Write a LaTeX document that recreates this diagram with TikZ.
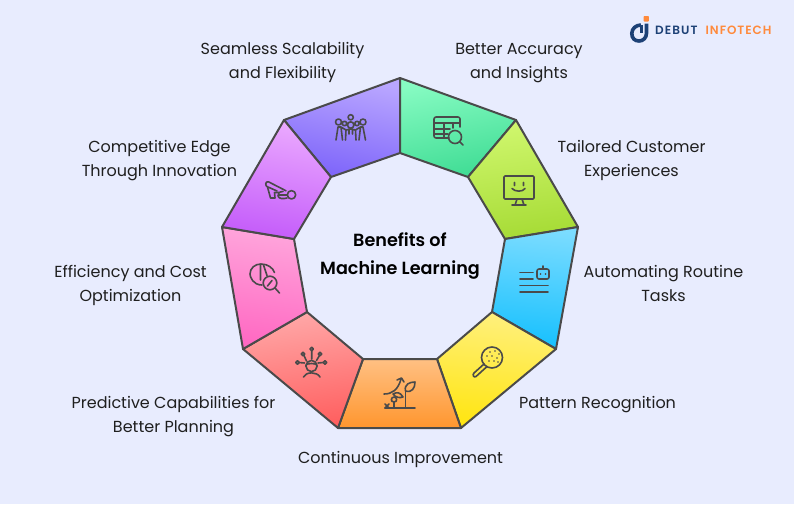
\documentclass[tikz,border=0pt]{standalone}
\usepackage{fontspec}
\setmainfont[BoldFont={Poppins SemiBold}]{Poppins}
\newfontfamily\logoa[LetterSpace=9,BoldFont={Poppins SemiBold}]{Poppins}
\newfontfamily\logob[LetterSpace=8,BoldFont={Poppins SemiBold}]{Poppins}
\usetikzlibrary{arrows.meta}
\definecolor{bgc}{HTML}{E8ECFE}
\definecolor{linec}{HTML}{4A4A4A}
\definecolor{inkc}{HTML}{1F1F1F}
\definecolor{logoblue}{HTML}{1D4176}
\definecolor{logoora}{HTML}{FF8A3C}
\definecolor{purt}{HTML}{B9A6FF}\definecolor{purb}{HTML}{7D64FA}
\definecolor{grnt}{HTML}{86FBC2}\definecolor{grnb}{HTML}{3FDC94}
\definecolor{limt}{HTML}{D0F76E}\definecolor{limb}{HTML}{A6DB35}
\definecolor{blut}{HTML}{7BDCFF}\definecolor{blub}{HTML}{16C0FE}
\definecolor{yelt}{HTML}{FFF07E}\definecolor{yelb}{HTML}{FFE510}
\definecolor{orat}{HTML}{FFC083}\definecolor{orab}{HTML}{FF962E}
\definecolor{redt}{HTML}{FFA8A8}\definecolor{redb}{HTML}{FF5F5F}
\definecolor{pnkt}{HTML}{FFA6DC}\definecolor{pnkb}{HTML}{FF68C2}
\definecolor{magt}{HTML}{EBAAFF}\definecolor{magb}{HTML}{C45CFA}
\tikzset{
  x=1pt,y=-1pt,
  seg/.style n args={3}{draw=linec,line width=2pt,line join=round,top color=#1,bottom color=#2,shading angle=#3},
  lbl/.style={font=\fontsize{16}{24}\selectfont,text=inkc,align=center,inner sep=0pt},
  ttl/.style={font=\fontsize{17.6}{28}\selectfont\bfseries,text=black,align=center,inner sep=0pt},
  ico/.style={draw=linec,line width=1.6pt,line cap=round,line join=round,fill=none},
  logot/.style={inner sep=0pt,anchor=base west},
}
\begin{document}
\begin{tikzpicture}
\useasboundingbox (0,0) rectangle (794,504);
\fill[bgc] (0,0) rectangle (794,504);
% segments
\path[seg={purt}{purb}{-12}] (400,78)--(400,153)--(331,177)--(284,120)--cycle;
\path[seg={grnt}{grnb}{12}] (400,78)--(516,120)--(468,177)--(400,153)--cycle;
\path[seg={limt}{limb}{8}] (516,120)--(578,227)--(505,239)--(468,177)--cycle;
\path[seg={blut}{blub}{-6}] (578,227)--(556,349)--(492,312)--(505,239)--cycle;
\path[seg={yelt}{yelb}{-6}] (556,349)--(461,428)--(437,359)--(492,312)--cycle;
\path[seg={orat}{orab}{0}] (461,428)--(338,428)--(363,359)--(437,359)--cycle;
\path[seg={redt}{redb}{8}] (338,428)--(243,349)--(307,312)--(363,359)--cycle;
\path[seg={pnkt}{pnkb}{-8}] (243,349)--(222,227)--(294,239)--(307,312)--cycle;
\path[seg={magt}{magb}{-10}] (222,227)--(284,120)--(331,177)--(294,239)--cycle;
% labels
\node[lbl] (l1) at (282.5,62.5) {Seamless Scalability\\and Flexibility};
\node[lbl] (l2) at (519,63.5) {Better Accuracy\\and Insights};
\node[lbl] (l3) at (631.5,160.5) {Tailored Customer\\Experiences};
\node[lbl] (l4) at (663.5,283.5) {Automating Routine\\Tasks};
\node[lbl] (l5) at (597.5,404.5) {Pattern Recognition};
\node[lbl] (l6) at (400.5,459.5) {Continuous Improvement};
\node[lbl] (l7) at (173.5,416.5) {Predictive Capabilities for\\Better Planning};
\node[lbl] (l8) at (130.5,285.5) {Efficiency and Cost\\Optimization};
\node[lbl] (l9) at (159.5,160.5) {Competitive Edge\\Through Innovation};
\node[ttl] (t) at (400,255.5) {Benefits of\\Machine Learning};
% purple: people
\draw[ico] (350.7,117.3) circle (2.6) (338.5,122) circle (3) (363,122) circle (3) (350.7,125) circle (3.2) (344.5,123.5) circle (2.2) (357,123.5) circle (2.2);
\draw[ico] (336,140) -- (338,127) -- (341,127) -- (342.5,140) (345.5,140) -- (346,130) -- (350.7,129) -- (355.5,130) -- (356,140) (359,140) -- (360.5,127) -- (363,127) -- (365.5,140) (341,127) -- (346,130) (355.5,130) -- (360.5,127) (349,129) -- (349,134) (352.5,129) -- (352.5,134);
% green: table + magnifier
\draw[ico] (449,138) -- (436,138) .. controls (435,138) and (434,137) .. (434,136) -- (434,119) .. controls (434,118) and (435,117) .. (436,117) -- (458,117) .. controls (459,117) and (460,118) .. (460,119) -- (460,127);
\draw[ico] (434,123) -- (460,123) (434,129) -- (450,129) (434,134) -- (448,134) (444,123) -- (444,138) (453,123) -- (453,128);
\draw[ico] (455,137) circle (6.5);
\draw[ico] (459.8,141.8) -- (463,145);
% lime: monitor
\draw[ico,rounded corners=1pt] (504,176) rectangle (534,199);
\draw[ico] (517,199) -- (515,205) (522,199) -- (524,205) (512,205) -- (526,205) (514.5,182.5) -- (514.5,185.5) (523.5,182.5) -- (523.5,185.5);
\draw[ico] (512,188.5) .. controls (515,192) and (523,192) .. (525,188.5);
% blue: robot
\draw[ico,rounded corners=2pt] (537,269) rectangle (549,279);
\draw[ico] (543,266) -- (543,269) (540.5,274) -- (540.6,274) (545.5,274) -- (545.6,274);
\draw[ico] (520,272.5) -- (533,272.5) (520,279) -- (533,279) (520,285.5) -- (548,285.5) (520,292) -- (548,292);
% yellow: magnifier
\draw[ico] (492,357.5) circle (10.5);
\draw[ico] (484,364) -- (474,373) .. controls (472,375) and (474,378) .. (476,376.5) -- (486.5,367);
\foreach \a/\b in {490/352,495/351,499/354,487/356,492/356,497/358,489/361,494/361,498/362}
  \fill[linec] (\a,\b) circle (0.9);
% orange: plant
\draw[ico] (385,408) -- (415,408) (405.5,408) -- (405.5,391);
\draw[ico] (405.5,391) .. controls (404,384) and (410,382) .. (415,382) .. controls (415,388) and (412,393) .. (405.5,391);
\draw[ico] (403,397) .. controls (400,392) and (397,392) .. (393,394) .. controls (396,398) and (400,398) .. (403,397);
\draw[ico] (384,394) .. controls (392,394) and (398,390) .. (401,379);
\draw[ico] (397,380) -- (401.5,378) -- (404,382);
\draw[ico] (394,408) -- (394,402) (394,402) .. controls (390,402) and (391,397) .. (394,397) .. controls (397,397) and (398,402) .. (394,402);
\draw[ico] (385,404) -- (389,408) (389,404) -- (385,408);
% red: person and ideas
\draw[ico] (311.5,366) circle (5.6) (305.8,365) .. controls (308,363) and (315,363) .. (317,365);
\draw[ico] (303.5,377) .. controls (306,371.5) and (317,371.5) .. (320,377);
\draw[ico] (303,354) circle (1.7) (311.7,349) circle (1.7) (320,354) circle (1.7) (297.5,362.5) circle (1.7) (325,362.5) circle (1.7);
\draw[ico] (304,355.5) -- (306.5,361) (311.7,351) -- (311.7,359) (319.5,355.5) -- (316.5,360.5) (299.3,362.5) -- (304.5,363) (323.2,362.5) -- (318,363);
% pink: pie + magnifier
\draw[ico] (262,285) .. controls (253,285) and (250,277) .. (250,274) .. controls (250,268) and (255,264) .. (261,264) .. controls (268,264) and (273,268) .. (274.5,272.5);
\draw[ico] (260.5,264.5) -- (260.5,280) (263.5,265) -- (267,275.5);
\draw[ico] (270,283) circle (6.8);
\draw[ico] (267.5,286) -- (272,280.5);
\draw[ico] (275,288) -- (279.5,293);
% magenta: cannon
\draw[ico] (268.5,181.8) -- (286,190.8) (268.5,181.8) .. controls (265,181) and (265,186) .. (267.5,187) -- (270.5,198) -- (275,198) -- (274.5,192.5) -- (279,192.5);
\draw[ico] (268,187) -- (277,191);
\draw[ico] (283,191.5) .. controls (279,191.5) and (277.5,194) .. (278,196) .. controls (279,199) and (283,199) .. (287,198) (279,195) -- (287,195);
\draw[ico] (291.5,194.8) circle (4.2);
% logo
\fill[logoora,rounded corners=0.8pt] (643.5,16) rectangle (648.8,21.5);
\draw[logoblue,line width=3.6pt] (641,25) .. controls (636,25) and (631.8,28.5) .. (631.8,33.5) .. controls (631.8,38.5) and (635,41) .. (639,41) .. controls (643,41) and (646.5,38) .. (646.5,33) -- (646.5,23.5);
\draw[logoblue,line width=2.8pt] (641.3,25) -- (641.3,33);
\node[logot,text=logoblue,font=\fontsize{12}{12}\selectfont\logoa\bfseries] (d) at (655,34.5) {DEBUT};
\node[logot,text=logoora,font=\fontsize{12}{12}\selectfont\logob\bfseries] (i) at (705.5,34.5) {INFOTECH};
\end{tikzpicture}
\end{document}
